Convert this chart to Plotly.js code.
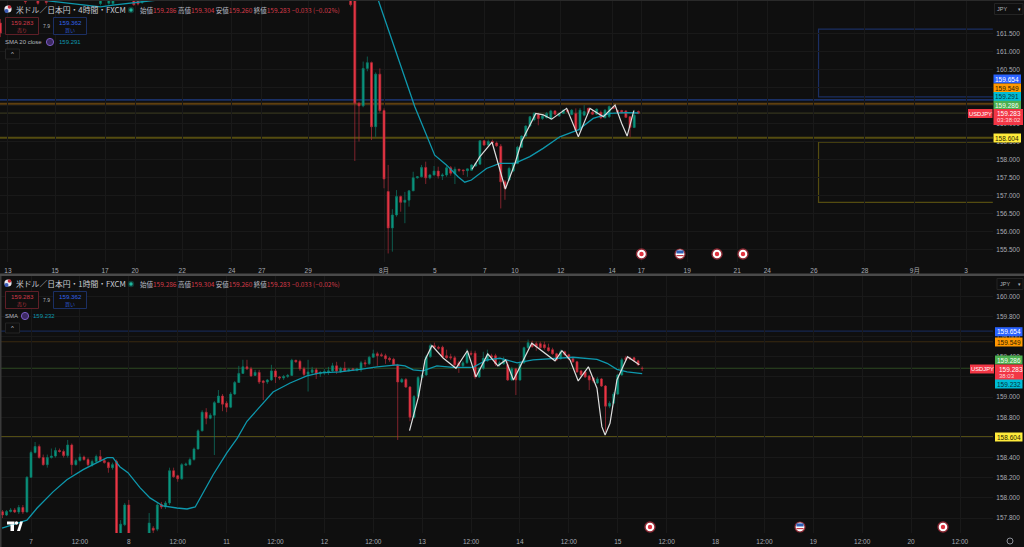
<!DOCTYPE html>
<html>
<head>
<meta charset="utf-8">
<script src="https://cdn.plot.ly/plotly-3.0.1.min.js"></script>
<style>html,body{margin:0;padding:0;background:#0f0f0f;overflow:hidden}#c{width:1024px;height:547px}</style>
</head>
<body>
<div id="c"></div>
<script>
// ---- 4-hour panel data (bar numbers counted from the 8月 bar) ----
const h4Bars = [-92,-86,-83,-81,-68,-66,-65,-60,-59,-58,-8,-7,-6,-5,-4,-3,-2,-1,0,1,2,3,4,5,6,7,8,9,10,11,12,13,14,15,16,17,18,19,20,21,22,23,24,25,26,27,28,29,30,31,32,33,34,35,36,37,38,39,40,41,42,43,44,45,46,47,48,49,50,51,52,53,54,55,56,57,58,59,60,61];
const h4Open = [161.79,162.8,162.7,162.6,162.33,162.34,162.33,162.7,162.7,162.36,162.9,163.5,159.56,159.49,160.53,160.69,158.91,160.37,159.36,157.11,156.10,156.46,156.97,156.81,156.87,157.13,157.49,157.52,157.78,157.49,157.57,157.68,157.54,157.57,157.77,157.6,157.73,157.71,157.69,157.7,157.82,157.87,158.52,158.40,158.5,158.46,158.37,157.38,157.43,157.68,157.89,158.34,158.65,158.93,159.1,159.25,159.14,159.16,159.13,159.35,159.21,159.28,159.37,159.25,159.28,158.82,159.23,159.42,159.31,159.26,159.31,159.16,159.19,159.46,159.36,159.36,159.35,159.19,158.89,159.33];
const h4High = [161.9,163,162.9,162.8,163,163,163,162.9,162.9,162.9,163.1,164,159.6,160.72,160.86,160.72,160.42,160.53,159.42,157.85,156.62,157.15,157.0,157.1,157.15,157.66,157.54,157.85,157.94,157.6,157.82,157.8,157.62,157.85,157.82,157.8,157.74,157.72,157.75,157.87,157.92,158.53,158.54,158.55,158.55,158.5,158.43,157.43,157.8,157.92,158.38,158.67,158.95,159.21,159.32,159.3,159.26,159.32,159.38,159.37,159.3,159.39,159.40,159.40,159.42,159.43,159.51,159.44,159.38,159.42,159.36,159.40,159.5,159.49,159.38,159.38,159.37,159.2,159.38,159.36];
const h4Low = [161.4,162.32,162.3,162.3,162.28,162.3,162.28,162.27,162.28,162.32,162.25,157.96,158.5,159.45,160.45,158.54,158.63,159.3,157.2,155.39,155.44,156.41,156.55,156.23,156.69,157.12,157.47,157.5,157.32,157.45,157.55,157.47,157.43,157.52,157.55,157.32,157.65,157.57,157.52,157.68,157.80,157.85,158.38,158.38,158.4,158.35,156.64,156.88,157.4,157.65,157.87,158.32,158.63,158.9,159.06,158.95,159.1,159.14,159.1,159.24,159.18,159.26,159.30,159.23,158.78,158.8,159.2,159.28,159.24,159.24,159.12,159.14,159.15,159.40,159.3,159.28,159.15,158.62,158.87,159.26];
const h4Close = [161.51,162.38,162.34,162.36,162.8,162.8,162.8,162.3,162.32,162.7,162.3,159.56,159.49,160.53,160.69,158.91,160.37,159.36,157.46,156.10,156.46,156.97,156.81,156.87,157.13,157.49,157.52,157.78,157.49,157.57,157.68,157.54,157.57,157.77,157.62,157.73,157.70,157.69,157.74,157.85,157.89,158.52,158.40,158.50,158.46,158.38,157.38,157.2,157.75,157.89,158.34,158.65,158.93,159.19,159.28,159.14,159.21,159.28,159.35,159.26,159.28,159.37,159.33,159.37,158.82,159.37,159.33,159.31,159.26,159.40,159.16,159.37,159.47,159.42,159.31,159.30,159.17,158.89,159.23,159.283];
const h4SmaBars = [-92,-80,-68,-65,-54.4,-50,-25,-8,-1.6,1.36,4.16,7.36,12.16,14.96,17.76,19.36,20.96,24.56,27.76,31.36,34.96,38.16,42.16,46.56,50.16,54.16,58.16,61];
const h4Sma = [162.6,162.4,162.24,162.29,162.43,162.7,164,164,162.5,161.50,160.58,159.47,158.12,157.85,157.52,157.37,157.43,157.75,157.89,157.89,158.08,158.31,158.63,158.82,159.14,159.28,159.30,159.291];
const h4DrawBars = [21.1,23,25.9,29.1,31.4,33,34.6,36.4,38.2,40.2,43.8,46.6,49.4,52.6,55.4,57,58.3,59.9];
const h4Draw = [157.73,158.08,158.48,157.18,157.89,158.50,158.87,159.28,159.24,159.12,159.42,158.63,159.42,159.19,159.51,159.0,158.65,159.36];
const h4TickVals = [-90.2,-78.9,-66.9,-59.7,-48.4,-36.5,-29.3,-18.2,0,12.2,24.2,31.4,42.4,54.7,61.7,72.7,84.7,91.9,103.1,115.3,127.3,139.6];
const h4TickText = ['13','15','17','20','22','24','27','29','8月','5','7','10','12','14','17','19','21','24','26','28','9月','3'];
const h4PriceTicks = [155.5,156,156.5,157,157.5,158,158.5,159,159.5,160,160.5,161,161.5];
const h4BoxHigh = [161.62,159.74];
const h4BoxLow = [158.48,156.81];
const h4BoxStart = 104.2;
const h4BoxEnd = 146;

// ---- 1-hour panel data (hours counted from the "7" bar) ----
const h1Open = [157.863,157.83,157.865,157.88,157.86,157.905,157.86,
158.205,158.45,158.51,158.40,158.33,158.40,158.415,158.47,158.46,158.42,
158.525,158.33,158.37,158.405,158.38,158.325,158.36,158.41,158.37,158.35,
158.30,158.36,157.60,157.735,157.93,157.45,157.40,157.42,157.50,157.60,
157.70,157.69,157.935,157.91,157.95,158.27,158.22,158.19,158.325,158.33,
158.38,158.485,158.665,158.85,158.79,158.82,158.945,159.01,158.94,158.90,
159.03,159.145,159.235,159.30,159.28,159.215,159.245,159.16,159.15,159.17,
159.26,159.20,159.19,159.205,159.215,159.365,159.355,159.28,159.225,159.245,
159.27,159.23,159.24,159.25,159.26,159.31,159.25,159.285,159.26,159.28,
159.265,159.27,159.34,159.33,159.395,159.43,159.42,159.41,159.385,159.375,
159.315,159.15,159.175,159.10,158.80,159.005,159.195,159.22,159.40,159.51,
159.495,159.495,159.41,159.40,159.39,159.34,159.31,159.34,159.435,159.435,
159.20,159.285,159.36,159.41,159.41,159.32,159.33,159.32,159.17,159.28,
159.17,159.34,159.49,159.53,159.53,159.53,159.52,159.49,159.47,159.43,
159.38,159.45,159.42,159.38,159.35,159.26,159.25,159.21,159.19,159.14,
159.18,159.11,158.91,158.94,159.03,159.22,159.39,159.39,159.39,159.36,159.286];
const h1High = [157.88,157.88,157.90,157.90,157.93,157.93,158.215,
158.47,158.555,158.53,158.43,158.43,158.49,158.50,158.49,158.48,158.575,
158.54,158.39,158.44,158.42,158.40,158.38,158.43,158.475,158.39,158.36,
158.35,158.38,157.78,157.95,157.98,157.55,157.50,157.55,157.62,157.85,
157.72,157.96,157.96,157.97,158.30,158.30,158.23,158.345,158.35,158.40,
158.50,158.68,158.87,158.89,158.84,158.96,159.07,159.03,158.96,159.05,
159.16,159.31,159.37,159.37,159.30,159.27,159.27,159.17,159.18,159.32,
159.28,159.21,159.22,159.23,159.38,159.37,159.37,159.30,159.37,159.30,
159.29,159.26,159.28,159.30,159.34,159.35,159.30,159.35,159.29,159.29,
159.29,159.36,159.37,159.41,159.47,159.45,159.44,159.43,159.40,159.39,
159.33,159.19,159.19,159.11,159.02,159.21,159.24,159.42,159.53,159.54,
159.51,159.51,159.47,159.43,159.41,159.36,159.36,159.48,159.46,159.46,
159.30,159.45,159.47,159.43,159.43,159.36,159.40,159.37,159.30,159.29,
159.35,159.50,159.57,159.56,159.55,159.55,159.55,159.53,159.49,159.44,
159.47,159.46,159.43,159.39,159.36,159.27,159.26,159.22,159.20,159.20,
159.19,159.12,158.96,159.05,159.23,159.39,159.41,159.40,159.40,159.37,159.304];
const h1Low = [157.80,157.82,157.855,157.85,157.84,157.84,157.855,
158.20,158.44,158.39,158.32,158.30,158.39,158.40,158.45,158.40,158.40,
158.23,158.32,158.36,158.37,158.31,158.31,158.35,158.36,158.34,158.25,
158.28,157.50,157.55,157.72,157.55,157.35,157.32,157.38,157.45,157.55,
157.60,157.67,157.89,157.89,157.93,158.20,158.16,158.18,158.32,158.32,
158.37,158.48,158.66,158.73,158.78,158.425,158.94,158.86,158.85,158.89,
159.02,159.14,159.23,159.27,159.20,159.21,159.13,158.97,159.13,159.16,
159.14,159.17,159.17,159.19,159.21,159.34,159.26,159.21,159.055,159.23,
159.18,159.20,159.22,159.22,159.25,159.23,159.24,159.25,159.255,159.26,
159.255,159.25,159.30,159.32,159.39,159.31,159.40,159.33,159.35,159.31,
158.575,159.14,159.09,158.76,158.79,159.00,159.19,159.21,159.39,159.48,
159.47,159.39,159.38,159.37,159.31,159.24,159.30,159.33,159.41,159.18,
159.19,159.27,159.35,159.38,159.31,159.30,159.32,159.16,159.16,159.02,
159.16,159.33,159.48,159.49,159.46,159.48,159.47,159.45,159.42,159.36,
159.37,159.41,159.37,159.34,159.24,159.20,159.19,159.07,159.14,159.13,
159.10,158.655,158.89,158.93,159.02,159.21,159.36,159.37,159.35,159.31,159.26];
const h1Close = [157.831,157.865,157.88,157.86,157.905,157.86,158.205,
158.45,158.51,158.40,158.33,158.40,158.415,158.47,158.46,158.42,158.525,
158.33,158.37,158.405,158.38,158.33,158.36,158.41,158.37,158.35,158.30,
158.33,157.60,157.74,157.93,157.60,157.40,157.45,157.50,157.60,157.75,
157.68,157.93,157.91,157.95,158.27,158.21,158.19,158.33,158.335,158.38,
158.485,158.665,158.85,158.79,158.82,158.945,159.01,158.93,158.90,159.03,
159.145,159.235,159.30,159.28,159.21,159.245,159.15,159.145,159.17,159.26,
159.20,159.19,159.205,159.215,159.365,159.35,159.28,159.225,159.25,159.27,
159.23,159.245,159.255,159.26,159.31,159.26,159.285,159.26,159.275,159.27,
159.28,159.34,159.33,159.395,159.43,159.41,159.41,159.38,159.37,159.32,
159.15,159.175,159.10,158.80,159.005,159.195,159.22,159.40,159.51,159.495,
159.485,159.40,159.39,159.39,159.32,159.31,159.34,159.435,159.425,159.20,
159.285,159.385,159.42,159.395,159.33,159.34,159.37,159.17,159.28,159.17,
159.33,159.49,159.54,159.50,159.50,159.49,159.49,159.46,159.43,159.37,
159.45,159.42,159.38,159.35,159.25,159.22,159.20,159.17,159.16,159.18,
159.11,158.91,158.94,159.03,159.22,159.37,159.37,159.38,159.36,159.32,159.283];
const h1SmaBars = [-7.1,-3.4,-1,1.5,5.4,8.8,12.8,16.2,18.7,20.1,21.8,23.8,26.8,29.2,32.4,35.8,38.3,40.3,42.2,44.7,48.1,50.6,53,56.2,59.4,63.6,67.7,70.9,75.8,80.8,84.9,89.8,91.8,93.8,96.2,99.6,103.6,108.5,111.9,115.1,119.3,123.2,128.1,133,138.9,141.4,143.8,146.3,150];
const h1Sma = [157.70,157.75,157.78,157.90,158.06,158.18,158.28,158.35,158.40,158.40,158.31,158.25,158.10,158.00,157.92,157.90,157.89,157.91,158.05,158.23,158.45,158.59,158.76,158.905,159.05,159.14,159.21,159.24,159.25,159.275,159.30,159.32,159.31,159.27,159.26,159.31,159.295,159.295,159.37,159.385,159.34,159.37,159.385,159.395,159.375,159.335,159.275,159.25,159.232];
const h1DrawBars = [92.9,95.1,96.7,98.4,101.2,104.3,107.1,109.2,112.1,114.6,116.5,118.4,122.9,128.6,130.3,132.3,134.3,136.8,138.9,140.1,140.9,142.1,143.8,146.4,149.3];
const h1Draw = [158.667,159.004,159.368,159.51,159.385,159.286,159.46,159.20,159.428,159.31,159.368,159.17,159.534,159.36,159.46,159.368,159.16,159.30,159.088,158.707,158.624,158.74,159.17,159.40,159.32];
const h1TickVals = [0,12,24,36,48,60,72,84,96,108,120,132,144,156,168,180,192,204,216,228];
const h1TickText = ['7','12:00','8','12:00','11','12:00','12','12:00','13','12:00','14','12:00','15','12:00','18','12:00','19','12:00','20','12:00'];
const h1PriceTicks = [157.8,158,158.2,158.4,158.6,158.8,159,159.2,159.4,159.6,159.8,160];

// ---- shared levels ----
const levelValues = [159.654,159.549,159.286,158.604];
const levelColorsTop = ['#1a3066','#5e3f10','#35351e','#544c10'];
const levelColorsBottom = ['#162750','#3a2a10','#2e4a22','#524c14'];

// ---- page metrics ----
const W = 1024, H = 547;
const PX = x => x / W, PY = y => 1 - y / H;
const FONT = '"Noto Sans CJK JP","Noto Sans",sans-serif';
const NUM = '"Liberation Sans",Arimo,sans-serif';
const GREEN = '#089981', RED = '#f23645';
const h1Bars = h1Close.map((_, k) => k - 7);

function candles(x, o, h, l, c, xa, ya) {
  return {type: 'candlestick', x, open: o, high: h, low: l, close: c, xaxis: xa, yaxis: ya,
    whiskerwidth: 0, hoverinfo: 'skip',
    increasing: {line: {color: '#0d7a69', width: 0.7}, fillcolor: GREEN},
    decreasing: {line: {color: '#b02c39', width: 0.7}, fillcolor: RED}};
}
function line(x, y, color, width, xa, ya) {
  return {type: 'scatter', mode: 'lines', x, y, xaxis: xa, yaxis: ya, hoverinfo: 'skip',
    line: {color, width, shape: 'linear'}};
}
const traces = [
  candles(h4Bars, h4Open, h4High, h4Low, h4Close, 'x', 'y'),
  line(h4SmaBars, h4Sma, '#0e98ad', 1.3, 'x', 'y'),
  line(h4DrawBars, h4Draw, '#dedede', 1.2, 'x', 'y'),
  candles(h1Bars, h1Open, h1High, h1Low, h1Close, 'x2', 'y2'),
  line(h1SmaBars, h1Sma, '#0e98ad', 1.3, 'x2', 'y2'),
  line(h1DrawBars, h1Draw, '#dedede', 1.2, 'x2', 'y2')
];

// ---- drawing helpers ----
const shapes = [];
const ann = [];
function rect(x0, y0, x1, y1, fill, stroke, sw, layer) {
  shapes.push({type: 'rect', xref: 'paper', yref: 'paper', x0: PX(x0), x1: PX(x1), y0: PY(y0), y1: PY(y1),
    fillcolor: fill || 'rgba(0,0,0,0)', line: {color: stroke || 'rgba(0,0,0,0)', width: sw || 0}, layer: layer || 'above'});
}
function circ(cx, cy, r, fill, stroke, sw) {
  shapes.push({type: 'circle', xref: 'paper', yref: 'paper', x0: PX(cx - r), x1: PX(cx + r), y0: PY(cy - r), y1: PY(cy + r),
    fillcolor: fill, line: {color: stroke || 'rgba(0,0,0,0)', width: sw || 0}, layer: 'above'});
}
function txt(x, y, text, size, color, anchor, family) {
  ann.push({xref: 'paper', yref: 'paper', x: PX(x), y: PY(y), text, showarrow: false, xanchor: anchor || 'left', yanchor: 'middle',
    font: {family: family || FONT, size, color}, borderpad: 0, borderwidth: 0});
}
function tag(x0, x1, yc, h, text, bg, color, size) {
  rect(x0, yc - h / 2, x1, yc + h / 2, bg, null, 0);
  txt((x0 + x1) / 2, yc, text, size || 6.5, color, 'center', NUM);
}
function level(val, color, ya, width) {
  shapes.push({type: 'line', xref: 'paper', yref: ya, x0: 0, x1: 993 / W, y0: val, y1: val,
    line: {color, width}, layer: 'below'});
}
function flagEvent(cx, cy) {
  circ(cx, cy, 5, '#ffffff', '#8c2a35', 1.2);
  rect(cx - 3.6, cy - 3.6, cx + 3.6, cy - 0.5, '#2f5fb5');
  rect(cx - 3.6, cy + 1, cx + 3.6, cy + 2.2, '#c63a46');
}
function redEvent(cx, cy) {
  circ(cx, cy, 5, '#ffffff', '#8c2a35', 1.4);
  circ(cx, cy, 2.2, '#e0323f');
}
function panelHeader(y, tf, sma, smaLabel, smaIconX, smaValX) {
  circ(8, y - 1, 3.6, '#e8e8f0');
  circ(9.5, y - 3, 1.8, '#c9303c');
  circ(6.5, y + 1, 2, '#3b5cb8');
  txt(16, y, '米ドル／日本円・' + tf + '・FXCM', 7.8, '#c8cad2');
  circ(131, y, 3.2, '#0f3d37');
  circ(131, y, 1.7, '#1fb89e');
  const r = s => '<span style="color:#d13a48">' + s + '</span>';
  const g = s => '<span style="color:#b9bbc3">' + s + '</span>';
  txt(140, y, g('始値') + r('159.286') + ' ' + g('高値') + r('159.304') + ' ' + g('安値') + r('159.260') + ' ' + g('終値') + r('159.283 −0.033 (−0.02%)'), 6.5, '#d13a48');
  const by = y + 16;
  rect(5.5, by - 8.5, 38.5, by + 8.5, '#0f0f0f', '#5e1f27', 1);
  rect(53.5, by - 8.5, 86.5, by + 8.5, '#0f0f0f', '#1b2f63', 1);
  txt(22, by - 3.5, '159.283', 6.2, '#d13a48', 'center', NUM);
  txt(22, by + 4, '売り', 5, '#b8323f', 'center');
  txt(46, by, '7.9', 5, '#b2b5bd', 'center', NUM);
  txt(70, by - 3.5, '159.362', 6.2, '#2f62e8', 'center', NUM);
  txt(70, by + 4, '買い', 5, '#2a55c6', 'center');
  const sy = by + 16;
  txt(5, sy, smaLabel, 6, '#b2b5bd', 'left', NUM);
  circ(smaIconX, sy, 3.6, '#3d2a63', '#7b5cc4', 1);
  txt(smaValX, sy, sma, 6, '#0e98ad', 'left', NUM);
  rect(5.5, sy + 7, 19.5, sy + 17, '#0f0f0f', '#242424', 1);
  txt(12.5, sy + 12, '^', 6, '#c8cad2', 'center', NUM);
}

// horizontal levels and their boxes
levelValues.forEach((v, k) => {
  level(v, levelColorsTop[k], 'y', k === 2 ? 1.2 : 1.8);
  level(v, levelColorsBottom[k], 'y2', k === 3 ? 1.8 : 1.2);
});
[[h4BoxHigh, '#1b2f63'], [h4BoxLow, '#544c10']].forEach(([b, col]) => {
  shapes.push({type: 'path', xref: 'x', yref: 'y', layer: 'below',
    path: `M ${h4BoxEnd} ${b[0]} L ${h4BoxStart} ${b[0]} L ${h4BoxStart} ${b[1]} L ${h4BoxEnd} ${b[1]}`,
    line: {color: col, width: 1.2}});
});

// chrome
rect(0, 0, 1024, 1, '#2a2a2a');
rect(0, 273.5, 1024, 276, '#4a4a4a');
rect(0, 276, 1.5, 547, '#3a3a3a');

panelHeader(10, '4時間', '159.291', 'SMA 20 close', 50, 59);
panelHeader(284, '1時間', '159.232', 'SMA', 25, 33);

// currency buttons
rect(994.5, 3.5, 1023, 14.5, '#0f0f0f', '#242424', 1);
txt(997, 9, 'JPY', 5.5, '#b2b5bd', 'left', NUM);
txt(1019, 9, '▾', 5, '#b2b5bd', 'center', NUM);
rect(997, 278.5, 1023, 289.5, '#0f0f0f', '#242424', 1);
txt(999.5, 284, 'JPY', 5.5, '#b2b5bd', 'left', NUM);
txt(1019, 284, '▾', 5, '#b2b5bd', 'center', NUM);

// price tags, top panel
tag(993.5, 1021, 79, 9, '159.654', '#2962ff', '#ffffff');
tag(993.5, 1021, 88, 9, '159.549', '#ff9800', '#2a1c00');
tag(993.5, 1021, 96.5, 9, '159.291', '#00bcd4', '#04323a');
tag(993.5, 1021, 105, 8.5, '159.286', '#4caf50', '#f0fff0');
rect(993.5, 109, 1023, 125, '#f23645');
txt(997, 113.3, '159.283', 6.5, '#ffffff', 'left', NUM);
txt(997, 120.5, '03:38:02', 6, '#ffd5da', 'left', NUM);
tag(968, 992.5, 113.5, 9, 'USDJPY', '#f23645', '#ffffff', 5.8);
tag(993.5, 1021, 138, 9, '158.604', '#ffeb3b', '#2a2600');

// price tags, bottom panel
tag(995, 1022.5, 331.7, 9, '159.654', '#2962ff', '#ffffff');
tag(995, 1022.5, 342, 9, '159.549', '#ff9800', '#2a1c00');
tag(995, 1022.5, 360, 9, '159.286', '#4caf50', '#f0fff0');
rect(995, 364.5, 1023, 380, '#f23645');
txt(999, 369, '159.283', 6.5, '#ffffff', 'left', NUM);
txt(999, 376, '38:03', 6, '#ffd5da', 'left', NUM);
tag(970, 994, 369, 9, 'USDJPY', '#f23645', '#ffffff', 5.8);
tag(995, 1022.5, 384, 9, '159.232', '#00bcd4', '#04323a');
tag(995, 1022.5, 437, 9, '158.604', '#ffeb3b', '#2a2600');

// event markers
redEvent(641.5, 254); flagEvent(680, 254); redEvent(717, 254); redEvent(743, 254);
redEvent(650, 527); flagEvent(800, 527); redEvent(943, 527);

// chart logo
rect(7, 521.5, 14.5, 524.5, '#ffffff');
rect(10.5, 524.5, 14, 531, '#ffffff');
circ(16.5, 523, 1.7, '#ffffff');
shapes.push({type: 'path', xref: 'paper', yref: 'paper', layer: 'above', fillcolor: '#ffffff', line: {width: 0},
  path: `M ${PX(17)} ${PY(531)} L ${PX(20.2)} ${PY(521.5)} L ${PX(23)} ${PY(521.5)} L ${PX(20)} ${PY(531)} Z`});

// settings gear
circ(1010, 541, 3, 'rgba(0,0,0,0)', '#8a8d95', 1);

const xAxisBase = {zeroline: false, showline: false, ticks: 'outside', ticklen: 2, tickcolor: 'rgba(0,0,0,0)', showgrid: true, gridcolor: '#191919', gridwidth: 1,
  tickmode: 'array', tickfont: {family: NUM + ',"Noto Sans CJK JP"', size: 6.5, color: '#a8abb3'},
  rangeslider: {visible: false}, fixedrange: true, tickangle: 0};
const yAxisBase = {zeroline: false, showline: false, side: 'right', ticks: 'outside', ticklen: 1, tickcolor: 'rgba(0,0,0,0)',
  showgrid: true, gridcolor: '#191919', gridwidth: 1, tickmode: 'array', tickformat: '.3f',
  tickfont: {family: NUM, size: 6.5, color: '#a8abb3'}, fixedrange: true};
const layout = {
  width: W, height: H,
  margin: {l: 0, r: 0, t: 0, b: 0},
  paper_bgcolor: '#0f0f0f', plot_bgcolor: '#0f0f0f',
  showlegend: false, boxgap: 0.32, dragmode: false, hovermode: false,
  xaxis: Object.assign({}, xAxisBase, {domain: [0, 993 / W], range: [-92.09, 146.04], anchor: 'y', tickvals: h4TickVals, ticktext: h4TickText}),
  yaxis: Object.assign({}, yAxisBase, {domain: [(H - 262) / H, 1], range: [155.153, 162.43], anchor: 'x', tickvals: h4PriceTicks}),
  xaxis2: Object.assign({}, xAxisBase, {domain: [0, 993 / W], range: [-7.61, 236.1], anchor: 'y2', tickvals: h1TickVals, ticktext: h1TickText}),
  yaxis2: Object.assign({}, yAxisBase, {domain: [(H - 533) / H, (H - 276) / H], range: [157.652, 160.201], anchor: 'x2', tickvals: h1PriceTicks}),
  shapes, annotations: ann
};
Plotly.newPlot('c', traces, layout, {displayModeBar: false, staticPlot: true});
</script>
</body>
</html>
